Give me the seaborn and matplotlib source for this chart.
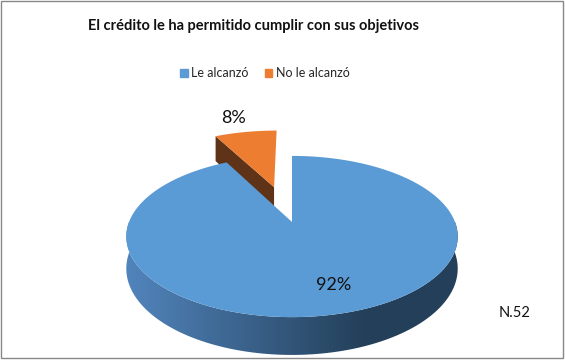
import numpy as np
import matplotlib
matplotlib.use("Agg")
import matplotlib.pyplot as plt
import seaborn as sns
from matplotlib.patches import Patch, Rectangle, Polygon

# Datos
categorias = ["Le alcanzó", "No le alcanzó"]
conteos = [48, 4]
etiquetas_pct = ["92%", "8%"]
nota = "N.52"
titulo = "El crédito le ha permitido cumplir con sus objetivos"

colores_top = ["#5b9bd5", "#ed7d31"]
color_corte = "#5e3317"
separacion = [0.0, 0.5]

sns.set_theme(style="white")
plt.rcParams['font.family'] = ['Lato', 'DejaVu Sans']

fig = plt.figure(figsize=(5.65, 3.6), dpi=100)
ax = fig.add_axes([0, 0, 1, 1])
ax.set_xlim(0, 565)
ax.set_ylim(360, 0)
ax.axis("off")

# Proyección de la torta 3D (perspectiva simple)
cx, cy, R, A, c, H = 292, 222, 163, 78, 0.18, 31


def proj(X, Y, z=0.0):
    s = 1.0 / (1.0 + c * Y)
    return cx + R * X * s, cy - A * Y * s + H * z * s


frac = np.array(conteos) / np.sum(conteos)
cum = np.concatenate([[0], np.cumsum(frac)])
# empieza a las 12 y gira en sentido horario
angulos = [(90 - cum[i + 1] * 360, 90 - cum[i] * 360) for i in range(len(conteos))]


def offset(i):
    a0, a1 = angulos[i]
    m = np.radians((a0 + a1) / 2)
    return separacion[i] * np.cos(m), separacion[i] * np.sin(m)


def cara_superior(i):
    a0, a1 = angulos[i]
    ox, oy = offset(i)
    t = np.radians(np.linspace(a0, a1, 300))
    X = np.concatenate([[ox], ox + np.cos(t), [ox]])
    Y = np.concatenate([[oy], oy + np.sin(t), [oy]])
    return np.array([proj(x, y) for x, y in zip(X, Y)])


# porción naranja (separada): cara de corte + cara superior
ox, oy = offset(1)
a_borde = np.radians(angulos[1][1] + 360)
ex, ey = ox + np.cos(a_borde), oy + np.sin(a_borde)
quad = np.array([proj(ox, oy), proj(ex, ey), proj(ex, ey, 1), proj(ox, oy, 1)])
ax.fill(quad[:, 0], quad[:, 1], color=color_corte, lw=0)
top = cara_superior(1)
ax.fill(top[:, 0], top[:, 1], color=colores_top[1], lw=0)

# lateral azul con degradado (imagen recortada por el contorno lateral)
t = np.radians(np.linspace(-180, 0, 300))
arriba = np.array([proj(np.cos(a), np.sin(a)) for a in t])
abajo = np.array([proj(np.cos(a), np.sin(a), 1) for a in t[::-1]])
lateral = np.vstack([arriba, abajo])
x0, x1 = lateral[:, 0].min(), lateral[:, 0].max()
y0, y1 = lateral[:, 1].min(), lateral[:, 1].max()

claro = np.array([0.32, 0.52, 0.74])
oscuro = np.array([0.14, 0.25, 0.35])
f = np.clip(np.linspace(0, 1, 400) / 0.72, 0, 1)
grad = claro[None, :] + (oscuro - claro)[None, :] * f[:, None]
img = ax.imshow(grad[None, :, :], extent=[x0, x1, y1, y0], aspect="auto",
                interpolation="bilinear", zorder=1)
clip = Polygon(lateral, closed=True, transform=ax.transData)
img.set_clip_path(clip)

top = cara_superior(0)
ax.fill(top[:, 0], top[:, 1], color=colores_top[0], lw=0, zorder=2)

# etiquetas
ax.text(334, 285, etiquetas_pct[0], ha="center", va="center", fontsize=13, color="#111111", zorder=3)
ax.text(233, 118, etiquetas_pct[1], ha="center", va="center", fontsize=13, color="#111111", zorder=3)
ax.text(515, 313, nota, ha="center", va="center", fontsize=10.5, color="#111111")

ax.text(253, 26, titulo, ha="center", va="center", fontsize=10.5, weight="bold", color="#111111")

handles = [Patch(color=colores_top[i]) for i in range(len(categorias))]
ax.legend(handles, categorias, loc="center", bbox_to_anchor=(265 / 565, 1 - 73 / 360),
          ncol=2, frameon=False, handlelength=0.6, handleheight=0.6,
          handletextpad=0.3, columnspacing=1.3, fontsize=9)

ax.set_xlim(0, 565)
ax.set_ylim(360, 0)
ax.add_patch(Rectangle((1, 1), 562, 357, fill=False, ec="#888888", lw=1))

fig.savefig("out.png", dpi=100)
